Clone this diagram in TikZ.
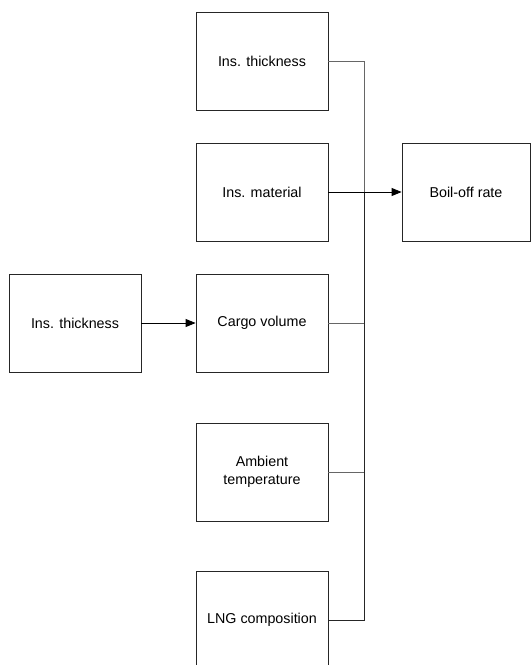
\documentclass[tikz,border=0pt]{standalone}
\usepackage{fontspec}
\setmainfont{Liberation Sans}
\usetikzlibrary{arrows.meta}
\tikzset{
  factor/.style={draw=black!85, line width=0.8pt, minimum width=132pt,
    minimum height=98pt, inner sep=2pt, align=center,
    font=\fontsize{14.3}{17.5}\selectfont},
  link/.style={draw=black!60, line width=0.8pt},
  feed/.style={link, draw=black, -{Triangle[length=10pt,width=8pt]}}
}
\begin{document}
\begin{tikzpicture}[x=1pt,y=1pt]
                \useasboundingbox (0,0) rectangle (531,-665);
                \clip (0,0) rectangle (531,-665);

                \node[factor] (thick) at (262,-61)  {Ins. thickness};
                \node[factor] (mat)   at (262,-192) {Ins. material};
                \node[factor] (cargo) at (262,-323) {Cargo volume};
                \node[factor] (amb)   at (262,-472) {Ambient\\temperature};
                \node[factor] (lng)   at (262,-620) {LNG composition};
                \node[factor] (left)  at (75,-323)  {Ins. thickness};
                \node[factor, minimum width=128pt] (bor) at (466,-192) {Boil-off rate};

                \coordinate (bus) at (364,-192);

                \draw[link] (thick.east) -| (bus);
                \draw[link] (cargo.east) -| (bus);
                \draw[link] (amb.east) -| (bus);
                \draw[link, draw=black!85] (lng.east) -| (bus);
                \draw[feed] (mat.east) -- (bor.west);
                \draw[feed] (left.east) -- (cargo.west);
            \end{tikzpicture}
\end{document}
